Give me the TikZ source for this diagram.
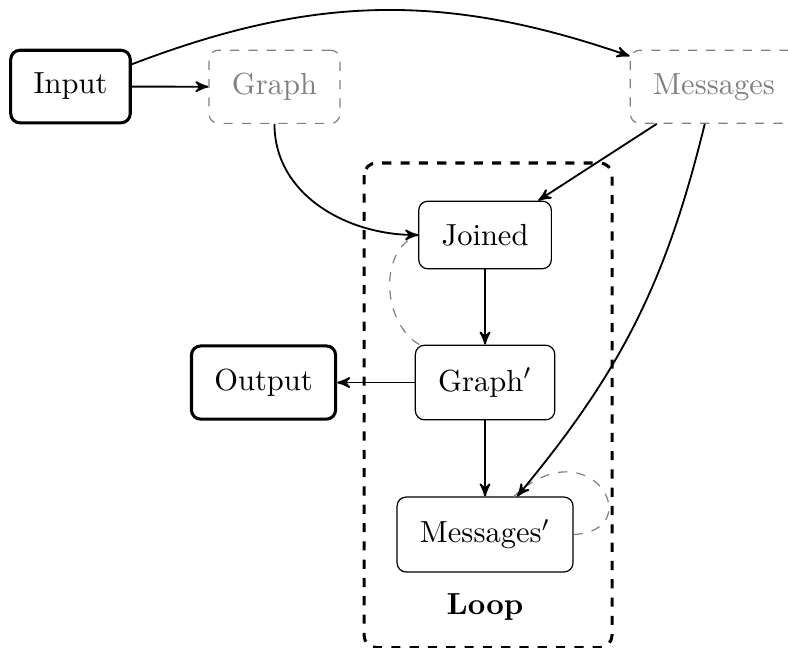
\documentclass[tikz,border=0pt]{standalone}
\usetikzlibrary{arrows,positioning}
\tikzset{
  stepbox/.style={rectangle,rounded corners=3pt,draw,thin,inner xsep=7.5pt,inner ysep=7.5pt},
  iobox/.style={stepbox,line width=1pt},
  ghostbox/.style={stepbox,draw=gray,text=gray,dashed},
  loopframe/.style={draw,dashed,line width=1pt,rounded corners=4pt},
  feedback/.style={draw=gray,dashed,thin}
}
\begin{document}
\begin{tikzpicture}[>=stealth',semithick]
        \useasboundingbox (0,0) rectangle (9.078,-7.454);
        % the loop frame goes in first so the nodes sit on top of it
        \draw[loopframe] (4.194,-1.878) rectangle (7.051,-7.46);
        \node[iobox] (in) at (0.812,-0.997) {Input};
        \node[ghostbox] (g0) at (3.162,-1.0) {Graph};
        \node[ghostbox] (m0) at (8.226,-1.0) {Messages};
        \node[stepbox] (join) at (5.588,-2.707) {Joined};
        \node[stepbox] (g1) at (5.588,-4.407) {Graph$'$};
        \node[iobox] (out) at (3.036,-4.407) {Output};
        \node[stepbox] (m1) at (5.588,-6.158) {Messages$'$};
        \node (lbl) at (5.588,-6.993) {\textbf{Loop}};
        \draw[feedback] (g1) to[out=150,in=200] (join.west);
        \draw[feedback] (m1.east) .. controls +(3:0.88) and +(43:1.2) .. (m1.53);
        \path[->]
          (in) edge (g0)
          (in) edge[bend left=20] (m0)
          (g0) edge[out=-90,in=180] (join)
          (m0) edge (join)
          (m0) edge[bend left=13] (m1)
          (join) edge (g1)
          (g1) edge (out)
          (g1) edge (m1);
      \end{tikzpicture}
\end{document}
